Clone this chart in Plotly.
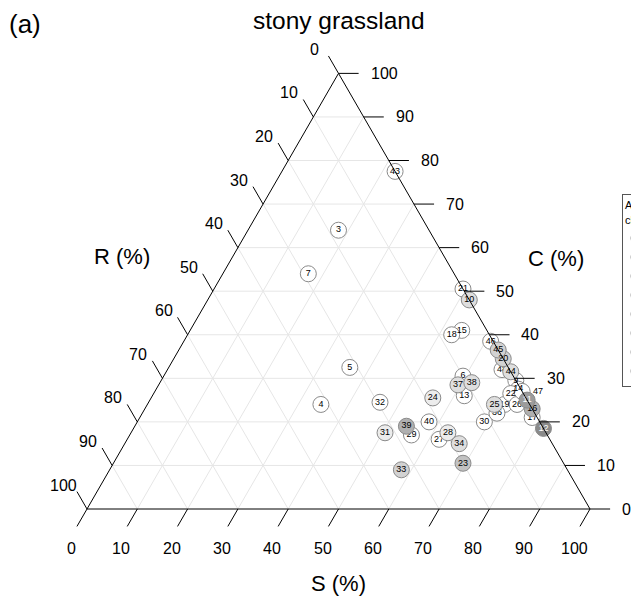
import numpy as np
import plotly.graph_objects as go

# ---- data: plot composition (%) ----
plot_ids = [3, 4, 5, 6, 7, 9, 10, 11, 12, 13, 14, 15, 16, 17, 18, 19, 20, 21, 22, 23, 24,
            25, 26, 27, 28, 29, 30, 31, 32, 33, 34, 36, 37, 38, 39, 40, 43, 44, 45, 46, 47, 48]
c_pct = [64, 24, 32.5, 30.5, 54, 29.5, 48, 25, 18.5, 26, 27.5, 41, 23, 21, 40, 24, 34.5, 50.5, 26.5, 10.5, 25.5,
         24, 24, 16, 17.5, 17, 20, 17.5, 24.5, 9, 15, 22, 28.5, 29, 19, 20, 77.5, 31.5, 36.5, 38.5, 27, 32]
s_pct = [18, 34.5, 36, 59.5, 17, 70.5, 52, 75, 81.5, 62, 72, 54, 77, 78, 52.5, 71, 65.5, 49.5, 71, 69.5, 56,
         69, 73.5, 62, 63, 56, 69, 50.5, 46, 58, 66.5, 70.5, 59.5, 62, 54, 58, 22.5, 68.5, 63.5, 61, 73, 66.5]
r_pct = [18, 41.5, 31.5, 10, 29, 0, 0, 0, 0, 12, 0.5, 5, 0, 1, 7.5, 5, 0, 0, 2.5, 20, 18.5,
         7, 2.5, 22, 19.5, 27, 11, 32, 29.5, 33, 18.5, 7.5, 12, 9, 27, 22, 0, 0, 0, 0.5, 0, 1.5]
age_class = [1, 1, 1, 1, 1, 1, 3, 7, 8, 1, 1, 1, 6, 1, 1, 1, 4, 1, 1, 5, 2,
             3, 1, 1, 2, 1, 1, 2, 1, 4, 3, 1, 3, 3, 6, 1, 1, 3, 4, 1, 1, 1]

class_names = ["1", "2", "3", "4", "5", "6", "7", "8"]
class_fill = ["#ffffff", "#ececec", "#dedede", "#d2d2d2", "#c2c2c2", "#b0b0b0", "#9c9c9c", "#8a8a8a"]
class_text = ["#000000"] * 6 + ["#ffffff", "#ffffff"]

ticks = list(range(0, 101, 10))

SQ = np.sqrt(3) / 2
PX = 5.03                      # pixels per composition unit
FONT = "Liberation Sans, Arial, sans-serif"
W, H = 631, 603
X0, Y0 = 87, 509               # pixel position of the R vertex


def to_xy(s, c):
    s = np.asarray(s, dtype=float)
    c = np.asarray(c, dtype=float)
    return s + c / 2, c * SQ


fig = go.Figure()
shapes = []
annotations = []

# grid lines
grid = dict(color="#e6e6e6", width=1)
for k in ticks[1:-1]:
    for (s1, c1), (s2, c2) in [((0, k), (100 - k, k)),          # constant C
                               ((k, 0), (k, 100 - k)),          # constant S
                               ((100 - k, 0), (0, 100 - k))]:   # constant R
        x1, y1 = to_xy(s1, c1)
        x2, y2 = to_xy(s2, c2)
        shapes.append(dict(type="line", x0=x1, y0=y1, x1=x2, y1=y2, line=grid, layer="below"))

# triangle outline
edge = dict(color="#000000", width=1)
verts = [to_xy(0, 0), to_xy(100, 0), to_xy(0, 100)]
for i in range(3):
    a, b = verts[i], verts[(i + 1) % 3]
    shapes.append(dict(type="line", x0=a[0], y0=a[1], x1=b[0], y1=b[1], line=edge))

TL = 4.0  # tick length in composition units
tick_font = dict(family=FONT, size=16, color="#000000")
for t in ticks:
    # S axis (bottom)
    bx, by = to_xy(t, 0)
    shapes.append(dict(type="line", x0=bx, y0=by, x1=bx - 0.5 * TL, y1=by - SQ * TL, line=edge))
    annotations.append(dict(x=bx, y=by, text=str(t), showarrow=False, font=tick_font,
                            xshift=-16, yshift=-39))
    # R axis (left)
    lx, ly = to_xy(0, 100 - t)
    shapes.append(dict(type="line", x0=lx, y0=ly, x1=lx - 0.5 * TL, y1=ly + SQ * TL, line=edge))
    annotations.append(dict(x=lx, y=ly, text=str(t), showarrow=False, font=tick_font,
                            xshift=-24, yshift=24))
    # C axis (right)
    rx, ry = to_xy(100 - t, t)
    shapes.append(dict(type="line", x0=rx, y0=ry, x1=rx + TL, y1=ry, line=edge))
    annotations.append(dict(x=rx, y=ry, text=str(t), showarrow=False, font=tick_font,
                            xanchor="left", xshift=30))

# points, one trace per class so darker symbols sit on top
for k, name in enumerate(class_names, start=1):
    idx = [i for i, a in enumerate(age_class) if a == k]
    xs, ys = to_xy([s_pct[i] for i in idx], [c_pct[i] for i in idx])
    labels = [str(plot_ids[i]) for i in idx]
    tpos = ["middle right" if plot_ids[i] == 47 else "middle center" for i in idx]
    fig.add_trace(go.Scatter(
        x=xs, y=ys, mode="markers+text", name=name,
        text=labels, textposition=tpos,
        textfont=dict(family=FONT, size=9, color=class_text[k - 1]),
        marker=dict(size=16, color=class_fill[k - 1], line=dict(color="#8a8a8a", width=1)),
        customdata=np.column_stack([[r_pct[i] for i in idx], [s_pct[i] for i in idx],
                                    [c_pct[i] for i in idx]]),
        hovertemplate="R %{customdata[0]}%<br>S %{customdata[1]}%<br>C %{customdata[2]}%<extra></extra>",
    ))


def paper(px, py):
    return px / W, 1 - py / H


for txt, (px, py), size in [("R (%)", (122, 257), 22), ("C (%)", (556, 258), 22),
                            ("S (%)", (338.5, 583), 22), ("stony grassland", (338.5, 21), 24.5),
                            ("(a)", (25, 24), 26)]:
    xp, yp = paper(px, py)
    annotations.append(dict(x=xp, y=yp, xref="paper", yref="paper", text=txt, showarrow=False,
                            font=dict(family=FONT, size=size, color="#000000"),
                            xanchor="center", yanchor="middle"))

fig.update_layout(
    width=W, height=H,
    margin=dict(l=0, r=0, t=0, b=0, autoexpand=False),
    paper_bgcolor="#ffffff", plot_bgcolor="#ffffff",
    xaxis=dict(range=[-X0 / PX, (W - X0) / PX], visible=False, fixedrange=True),
    yaxis=dict(range=[-(H - Y0) / PX, Y0 / PX], visible=False, fixedrange=True),
    shapes=shapes, annotations=annotations,
    showlegend=True,
    legend=dict(x=622 / W, y=1 - 194 / H, xanchor="left", yanchor="top",
                bordercolor="#555555", borderwidth=1, bgcolor="#ffffff",
                font=dict(family=FONT, size=7, color="#000000"), indentation=-4,
                title=dict(text="Age<br>class", font=dict(family=FONT, size=11, color="#000000"))),
)

fig.write_html("out.html")
